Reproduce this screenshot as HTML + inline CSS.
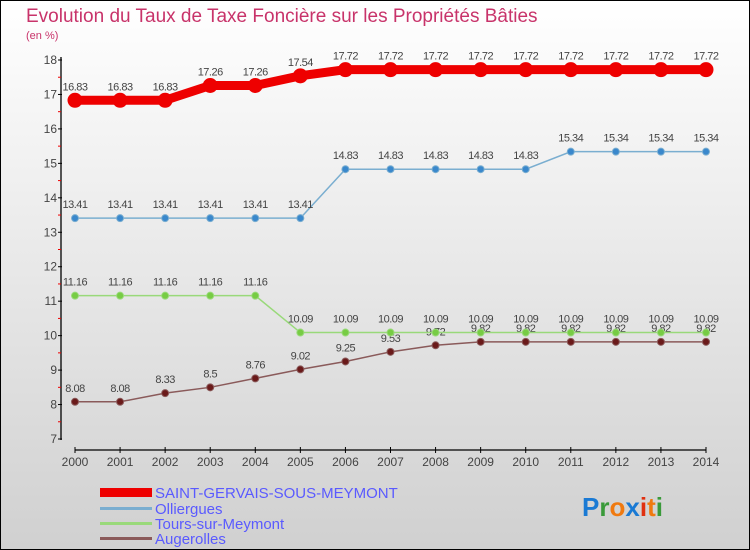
<!DOCTYPE html>
<html><head><meta charset="utf-8"><style>
body{margin:0}
svg{display:block;font-family:"Liberation Sans",sans-serif}
</style></head><body>
<svg id="c" width="750" height="550" viewBox="0 0 750 550">
<defs><linearGradient id="bg" x1="0" y1="0" x2="0" y2="1"><stop offset="0" stop-color="#ffffff"/><stop offset="1" stop-color="#d0d0d0"/></linearGradient></defs>
<rect x="0.5" y="0.5" width="749" height="549" fill="url(#bg)" stroke="#000"/>
<text x="26" y="22" font-size="19" fill="#c8336a">Evolution du Taux de Taxe Foncière sur les Propriétés Bâties</text>
<text x="26" y="39" font-size="11" fill="#c8336a">(en %)</text>
<g id="axes"></g>
<g id="series"></g>
<g id="legend" font-size="15" fill="#5a5aff">
<rect x="100" y="488" width="52" height="9" fill="#e00"/>
<text x="155" y="498">SAINT-GERVAIS-SOUS-MEYMONT</text>
<rect x="100" y="507" width="52" height="3" fill="#7aaed0"/>
<text x="155" y="514">Olliergues</text>
<rect x="100" y="522" width="52" height="3" fill="#99d97a"/>
<text x="155" y="529">Tours-sur-Meymont</text>
<rect x="100" y="537" width="52" height="3" fill="#8a5a5a"/>
<text x="155" y="544">Augerolles</text>
</g>
<g font-size="26" font-weight="bold">
<text x="582" y="516"><tspan fill="#1a7ad4">P</tspan><tspan fill="#3a9a3a">r</tspan><tspan fill="#f07a10">o</tspan><tspan fill="#1a7ad4">x</tspan><tspan fill="#e03010">i</tspan><tspan fill="#f07a10">t</tspan><tspan fill="#3a9a3a">i</tspan></text>
</g>
</svg>
<script>
const years=[2000,2001,2002,2003,2004,2005,2006,2007,2008,2009,2010,2011,2012,2013,2014];
const saint=[16.83,16.83,16.83,17.26,17.26,17.54,17.72,17.72,17.72,17.72,17.72,17.72,17.72,17.72,17.72];
const olli=[13.41,13.41,13.41,13.41,13.41,13.41,14.83,14.83,14.83,14.83,14.83,15.34,15.34,15.34,15.34];
const tours=[11.16,11.16,11.16,11.16,11.16,10.09,10.09,10.09,10.09,10.09,10.09,10.09,10.09,10.09,10.09];
const auge=[8.08,8.08,8.33,8.5,8.76,9.02,9.25,9.53,9.72,9.82,9.82,9.82,9.82,9.82,9.82];
const yTicks=[7,8,9,10,11,12,13,14,15,16,17,18];
const NS="http://www.w3.org/2000/svg";
const X=i=>75+i*(706-75)/(years.length-1);
const Y=v=>439-(v-7)*(439-60)/11;
function mk(p,t,a){const e=document.createElementNS(NS,t);for(const k in a)e.setAttribute(k,a[k]);p.appendChild(e);return e;}
const ax=document.getElementById('axes');
let yl=mk(ax,'line',{x1:61,y1:57,x2:61,y2:440,stroke:'#000','stroke-width':1.3});


yTicks.forEach(v=>{
 mk(ax,'line',{x1:58,x2:62,y1:Y(v),y2:Y(v),stroke:'#000'});
 if(v<18)mk(ax,'line',{x1:58,x2:61,y1:Y(v+0.5),y2:Y(v+0.5),stroke:'#e00'});
 const t=mk(ax,'text',{x:57,y:Y(v)+4,'font-size':12,'text-anchor':'end',fill:'#444'});t.textContent=v;
 
 
});
let xl=mk(ax,'line',{x1:75,y1:450,x2:706,y2:450,stroke:'#000','stroke-width':1.3});


years.forEach((y,i)=>{
 mk(ax,'line',{x1:X(i),x2:X(i),y1:447,y2:453,stroke:'#000'});
 const t=mk(ax,'text',{x:X(i),y:466,'font-size':12,'text-anchor':'middle',fill:'#444'});t.textContent=y;
 
 
});
const sg=document.getElementById('series');
function series(arr,name,col,dot,lw,r){
 const g=mk(sg,'g',{});
 
 
 mk(g,'polyline',{points:arr.map((v,i)=>X(i)+','+Y(v)).join(' '),fill:'none',stroke:col,'stroke-width':lw});
 arr.forEach((v,i)=>{
  const c=mk(g,'circle',{cx:X(i),cy:Y(v),r:r,fill:dot,stroke:col,'stroke-width':1});
  
  
  const t=mk(g,'text',{x:X(i),y:Y(v)-10,'font-size':11,'text-anchor':'middle',fill:'#444','letter-spacing':'-0.5'});t.textContent=v;
  
  
 });
}
series(auge,'augerolles','#8a5a5a','#6a1a1a',1.5,3.5);
series(tours,'tours','#99d97a','#77cc44',1.5,3.5);
series(olli,'olliergues','#7aaed0','#3a88cc',1.5,3.5);
series(saint,'saint-gervais','#e00','#e00',9,7);
</script>
</body></html>
